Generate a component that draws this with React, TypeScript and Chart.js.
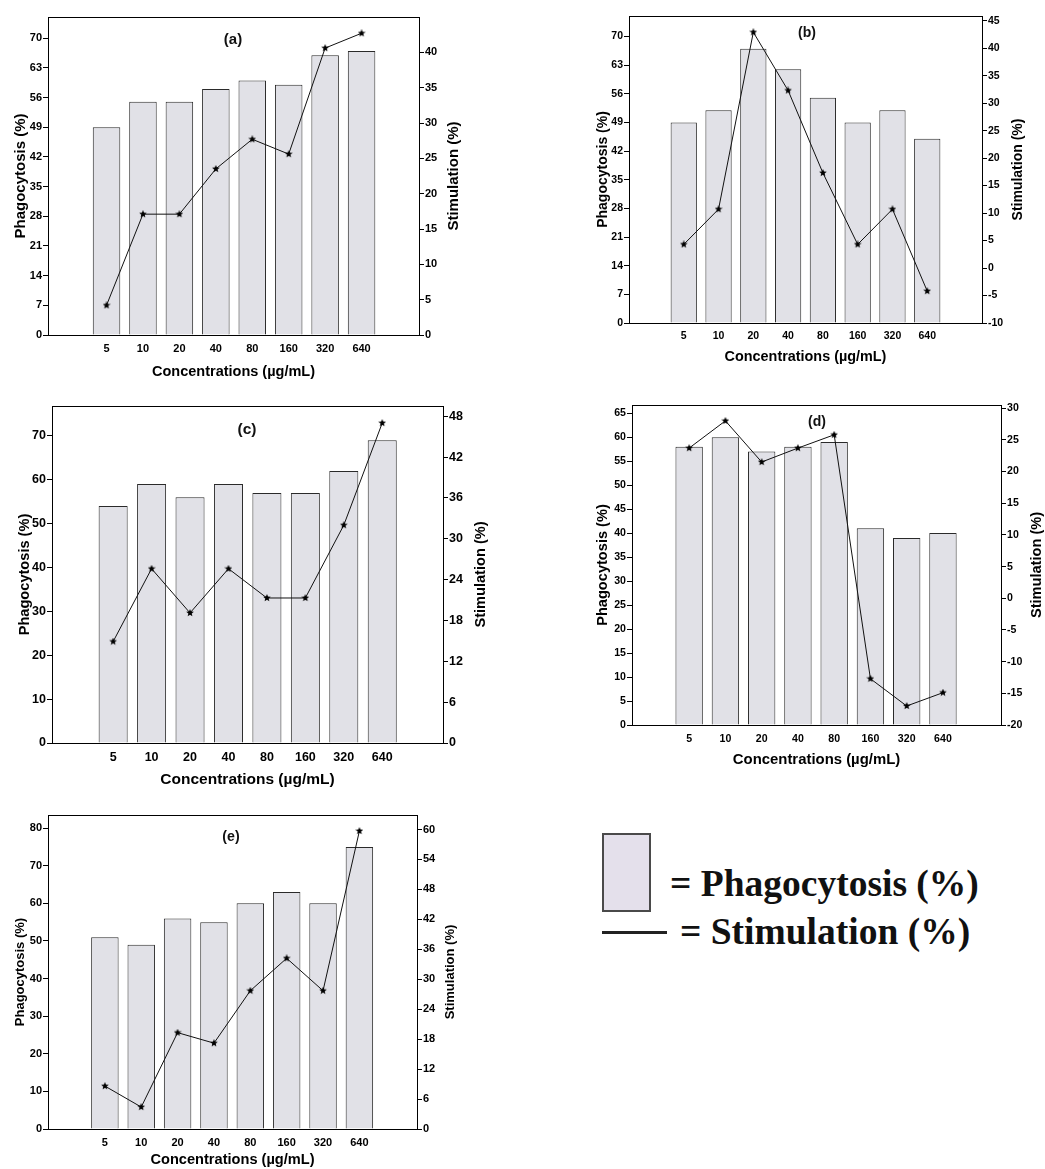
import React, { useEffect, useRef } from 'react';
import { Chart, registerables } from 'chart.js';

Chart.register(...registerables);

// ---------- DATA ----------
const concentrations = ['5', '10', '20', '40', '80', '160', '320', '640'];

const phagoA = [49, 55, 55, 58, 60, 59, 66, 67];
const stimA = [4.2, 17.1, 17.1, 23.5, 27.7, 25.6, 40.6, 42.7];

const phagoB = [49, 52, 67, 62, 55, 49, 52, 45];
const stimB = [4.3, 10.7, 42.9, 32.3, 17.3, 4.3, 10.7, -4.2];

const phagoC = [54, 59, 56, 59, 57, 57, 62, 69];
const stimC = [14.9, 25.6, 19.1, 25.6, 21.3, 21.3, 32.0, 47.0];

const phagoD = [58, 60, 57, 58, 59, 41, 39, 40];
const stimD = [23.7, 28.0, 21.5, 23.7, 25.8, -12.7, -17.0, -14.9];

const phagoE = [51, 49, 56, 55, 60, 63, 60, 75];
const stimE = [8.6, 4.4, 19.3, 17.2, 27.7, 34.2, 27.7, 59.7];

const leftTicksA = [0, 7, 14, 21, 28, 35, 42, 49, 56, 63, 70];
const rightTicksA = [0, 5, 10, 15, 20, 25, 30, 35, 40];
const leftTicksB = [0, 7, 14, 21, 28, 35, 42, 49, 56, 63, 70];
const rightTicksB = [-10, -5, 0, 5, 10, 15, 20, 25, 30, 35, 40, 45];
const leftTicksC = [0, 10, 20, 30, 40, 50, 60, 70];
const rightTicksC = [0, 6, 12, 18, 24, 30, 36, 42, 48];
const leftTicksD = [0, 5, 10, 15, 20, 25, 30, 35, 40, 45, 50, 55, 60, 65];
const rightTicksD = [-20, -15, -10, -5, 0, 5, 10, 15, 20, 25, 30];
const leftTicksE = [0, 10, 20, 30, 40, 50, 60, 70, 80];
const rightTicksE = [0, 6, 12, 18, 24, 30, 36, 42, 48, 54, 60];

const phagoTitle = 'Phagocytosis (%)';
const stimTitle = 'Stimulation (%)';
const xTitle = 'Concentrations (µg/mL)';

// ---------- LAYOUT ----------
type PanelCfg = {
  label: string;
  phago: number[];
  stim: number[];
  leftTicks: number[];
  rightTicks: number[];
  leftMax: number;
  rightMin: number;
  rightMax: number;
  xMin: number;
  xMax: number;
  canvas: { x: number; y: number; w: number; h: number };
  box: { l: number; t: number; r: number; b: number };
  leftTitleX: number;
  rightTitleX: number;
  xTitleY: number;
  tickLabelY: number;
  labelPos: { x: number; y: number };
  tickSize: number;
  yTitleSize: number;
  xTitleSize: number;
  labelSize: number;
};

const panels: PanelCfg[] = [
  {
    label: '(a)', phago: phagoA, stim: stimA, leftTicks: leftTicksA, rightTicks: rightTicksA,
    leftMax: 75, rightMin: 0, rightMax: 45, xMin: -0.97, xMax: 7.94,
    canvas: { x: 0, y: 0, w: 520, h: 385 }, box: { l: 48, t: 17, r: 419, b: 335 },
    leftTitleX: 20.5, rightTitleX: 454, xTitleY: 371.5, tickLabelY: 349,
    labelPos: { x: 233, y: 40 }, tickSize: 11, yTitleSize: 15, xTitleSize: 14.5, labelSize: 15,
  },
  {
    label: '(b)', phago: phagoB, stim: stimB, leftTicks: leftTicksB, rightTicks: rightTicksB,
    leftMax: 75, rightMin: -10, rightMax: 45.85, xMin: -0.94, xMax: 7.94,
    canvas: { x: 530, y: 0, w: 515, h: 385 }, box: { l: 629, t: 16, r: 982, b: 323 },
    leftTitleX: 603, rightTitleX: 1018, xTitleY: 357, tickLabelY: 336,
    labelPos: { x: 807, y: 33 }, tickSize: 10.5, yTitleSize: 14, xTitleSize: 14.4, labelSize: 14,
  },
  {
    label: '(c)', phago: phagoC, stim: stimC, leftTicks: leftTicksC, rightTicks: rightTicksC,
    leftMax: 76.8, rightMin: 0, rightMax: 49.5, xMin: -0.955, xMax: 7.945,
    canvas: { x: 0, y: 385, w: 520, h: 405 }, box: { l: 52, t: 406, r: 443, b: 743 },
    leftTitleX: 24.7, rightTitleX: 480.5, xTitleY: 780, tickLabelY: 757.7,
    labelPos: { x: 247, y: 430 }, tickSize: 12.5, yTitleSize: 14.6, xTitleSize: 15.5, labelSize: 15.5,
  },
  {
    label: '(d)', phago: phagoD, stim: stimD, leftTicks: leftTicksD, rightTicks: rightTicksD,
    leftMax: 66.7, rightMin: -20, rightMax: 30.5, xMin: -0.94, xMax: 7.965,
    canvas: { x: 530, y: 385, w: 515, h: 405 }, box: { l: 632, t: 405, r: 1001, b: 725 },
    leftTitleX: 603, rightTitleX: 1036.7, xTitleY: 760, tickLabelY: 739,
    labelPos: { x: 817, y: 422 }, tickSize: 10.6, yTitleSize: 14.6, xTitleSize: 14.9, labelSize: 14,
  },
  {
    label: '(e)', phago: phagoE, stim: stimE, leftTicks: leftTicksE, rightTicks: rightTicksE,
    leftMax: 83.5, rightMin: 0, rightMax: 62.9, xMin: -0.93, xMax: 7.95,
    canvas: { x: 0, y: 795, w: 520, h: 374 }, box: { l: 48, t: 815, r: 417, b: 1129 },
    leftTitleX: 20, rightTitleX: 450, xTitleY: 1161.7, tickLabelY: 1142.5,
    labelPos: { x: 231, y: 837 }, tickSize: 11, yTitleSize: 13, xTitleSize: 14.6, labelSize: 14.2,
  },
];

const FONT = "'Liberation Sans', Arial, Helvetica, sans-serif";
const BAR_FILL = '#e1e1e7';
const BAR_BORDER = '#2a2a2a';
const LINE_COLOR = '#111111';

function makeStar(size: number): HTMLCanvasElement {
  const c = document.createElement('canvas');
  c.width = size;
  c.height = size;
  const ctx = c.getContext('2d')!;
  ctx.fillStyle = '#000';
  ctx.beginPath();
  const cx = size / 2;
  const cy = size / 2;
  const R = size / 2;
  const r = R * 0.45;
  for (let i = 0; i < 10; i++) {
    const ang = -Math.PI / 2 + (i * Math.PI) / 5;
    const rad = i % 2 === 0 ? R : r;
    const px = cx + rad * Math.cos(ang);
    const py = cy + rad * Math.sin(ang);
    if (i === 0) ctx.moveTo(px, py);
    else ctx.lineTo(px, py);
  }
  ctx.closePath();
  ctx.fill();
  return c;
}

function Panel({ cfg }: { cfg: PanelCfg }) {
  const ref = useRef<HTMLCanvasElement | null>(null);

  useEffect(() => {
    if (!ref.current) return;
    const { canvas, box } = cfg;
    const leftW = box.l - canvas.x;
    const rightW = canvas.x + canvas.w - box.r;
    const topPad = box.t - canvas.y;
    const xH = canvas.y + canvas.h - box.b;
    const yLh = cfg.yTitleSize * 1.2;
    const xLh = cfg.xTitleSize * 1.2;
    const leftTitlePad = Math.max(0, cfg.leftTitleX - canvas.x - yLh / 2);
    const xTitlePad = Math.max(0, canvas.y + canvas.h - cfg.xTitleY - xLh / 2);
    const xTickPad = cfg.tickLabelY - box.b - (cfg.tickSize * 1.2) / 2;
    const star = makeStar(8);

    const framePlugin = {
      id: 'frameAndLabel',
      afterDraw(chart: any) {
        const ctx = chart.ctx;
        const a = chart.chartArea;
        ctx.save();
        ctx.strokeStyle = '#000';
        ctx.lineWidth = 1;
        const yTop = Math.round(a.top - 0.5) + 0.5;
        ctx.beginPath();
        ctx.moveTo(a.left, yTop);
        ctx.lineTo(a.right, yTop);
        ctx.stroke();
        // panel label
        ctx.fillStyle = '#111';
        ctx.font = `bold ${cfg.labelSize}px ${FONT}`;
        ctx.textAlign = 'center';
        ctx.textBaseline = 'middle';
        ctx.fillText(cfg.label, cfg.labelPos.x - canvas.x, cfg.labelPos.y - canvas.y);
        // right axis title, reading bottom-to-top
        ctx.fillStyle = '#000';
        ctx.font = `bold ${cfg.yTitleSize}px ${FONT}`;
        ctx.translate(cfg.rightTitleX - canvas.x, (a.top + a.bottom) / 2);
        ctx.rotate(-Math.PI / 2);
        ctx.fillText(stimTitle, 0, 0);
        ctx.restore();
      },
    };

    const tickFont = { family: FONT, size: cfg.tickSize, weight: 'bold' as const };

    const chart = new Chart(ref.current, {
      type: 'bar',
      data: {
        datasets: [
          {
            type: 'line',
            label: stimTitle,
            data: cfg.stim.map((v, i) => ({ x: i, y: v })),
            yAxisID: 'y1',
            xAxisID: 'x',
            borderColor: LINE_COLOR,
            borderWidth: 1,
            pointStyle: star as any,
            pointRadius: 4,
            tension: 0,
            fill: false,
            order: 0,
          } as any,
          {
            type: 'bar',
            label: phagoTitle,
            data: cfg.phago.map((v, i) => ({ x: i, y: v })),
            yAxisID: 'y',
            xAxisID: 'x',
            backgroundColor: BAR_FILL,
            borderColor: BAR_BORDER,
            borderWidth: 1,
            categoryPercentage: 1,
            barPercentage: 0.755,
            order: 1,
          } as any,
        ],
      },
      options: {
        animation: false,
        responsive: false,
        maintainAspectRatio: false,
        layout: { padding: { top: topPad, left: 0, right: 0, bottom: 0 } },
        plugins: {
          legend: { display: false },
          tooltip: { enabled: false },
          title: { display: false },
        },
        scales: {
          x: {
            type: 'linear',
            min: cfg.xMin,
            max: cfg.xMax,
            afterBuildTicks: (s: any) => {
              s.ticks = concentrations.map((_, i) => ({ value: i }));
            },
            afterFit: (s: any) => {
              s.height = xH;
            },
            grid: { display: false, drawTicks: false },
            border: { display: true, color: '#000', width: 1 },
            ticks: {
              callback: (v: any) => concentrations[v] ?? '',
              padding: xTickPad,
              font: tickFont,
              color: '#000',
              maxRotation: 0,
              autoSkip: false,
            },
            title: {
              display: true,
              text: xTitle,
              color: '#000',
              font: { family: FONT, size: cfg.xTitleSize, weight: 'bold' },
              padding: { top: 0, bottom: xTitlePad },
            },
          },
          y: {
            type: 'linear',
            position: 'left',
            min: 0,
            max: cfg.leftMax,
            afterBuildTicks: (s: any) => {
              s.ticks = cfg.leftTicks.map((v) => ({ value: v }));
            },
            afterFit: (s: any) => {
              s.width = leftW;
            },
            grid: { display: true, drawOnChartArea: false, drawTicks: true, tickLength: 5, color: '#000' },
            border: { display: true, color: '#000', width: 1 },
            ticks: { padding: 1, font: tickFont, color: '#000', autoSkip: false },
            title: {
              display: true,
              text: phagoTitle,
              color: '#000',
              font: { family: FONT, size: cfg.yTitleSize, weight: 'bold' },
              padding: { top: leftTitlePad, bottom: 0 },
            },
          },
          y1: {
            type: 'linear',
            position: 'right',
            min: cfg.rightMin,
            max: cfg.rightMax,
            afterBuildTicks: (s: any) => {
              s.ticks = cfg.rightTicks.map((v) => ({ value: v }));
            },
            afterFit: (s: any) => {
              s.width = rightW;
            },
            grid: { display: true, drawOnChartArea: false, drawTicks: true, tickLength: 5, color: '#000' },
            border: { display: true, color: '#000', width: 1 },
            ticks: { padding: 1, font: tickFont, color: '#000', autoSkip: false },
            title: { display: false },
          },
        },
      } as any,
      plugins: [framePlugin],
    });
    return () => chart.destroy();
  }, [cfg]);

  return (
    <canvas
      ref={ref}
      width={cfg.canvas.w}
      height={cfg.canvas.h}
      style={{
        position: 'absolute',
        left: cfg.canvas.x,
        top: cfg.canvas.y,
        width: cfg.canvas.w,
        height: cfg.canvas.h,
      }}
    />
  );
}

export default function App() {
  const legendFont = "'Liberation Serif', 'Times New Roman', serif";
  return (
    <div
      style={{
        position: 'absolute',
        left: 0,
        top: 0,
        width: 1045,
        height: 1169,
        overflow: 'hidden',
        background: '#fff',
      }}
    >
      {panels.map((p) => (
        <Panel key={p.label} cfg={p} />
      ))}
      <div
        style={{
          position: 'absolute',
          left: 602,
          top: 833,
          width: 45,
          height: 75,
          background: '#e4e0eb',
          border: '2px solid #4a4a4a',
        }}
      />
      <div
        style={{
          position: 'absolute',
          left: 670,
          top: 865,
          fontFamily: legendFont,
          fontWeight: 'bold',
          fontSize: 37.5,
          lineHeight: '37px',
          color: '#111',
          whiteSpace: 'nowrap',
        }}
      >
        = Phagocytosis (%)
      </div>
      <div
        style={{
          position: 'absolute',
          left: 602,
          top: 931,
          width: 65,
          height: 3,
          background: '#222',
        }}
      />
      <div
        style={{
          position: 'absolute',
          left: 680,
          top: 913,
          fontFamily: legendFont,
          fontWeight: 'bold',
          fontSize: 37.5,
          lineHeight: '37px',
          color: '#111',
          whiteSpace: 'nowrap',
        }}
      >
        = Stimulation (%)
      </div>
    </div>
  );
}
